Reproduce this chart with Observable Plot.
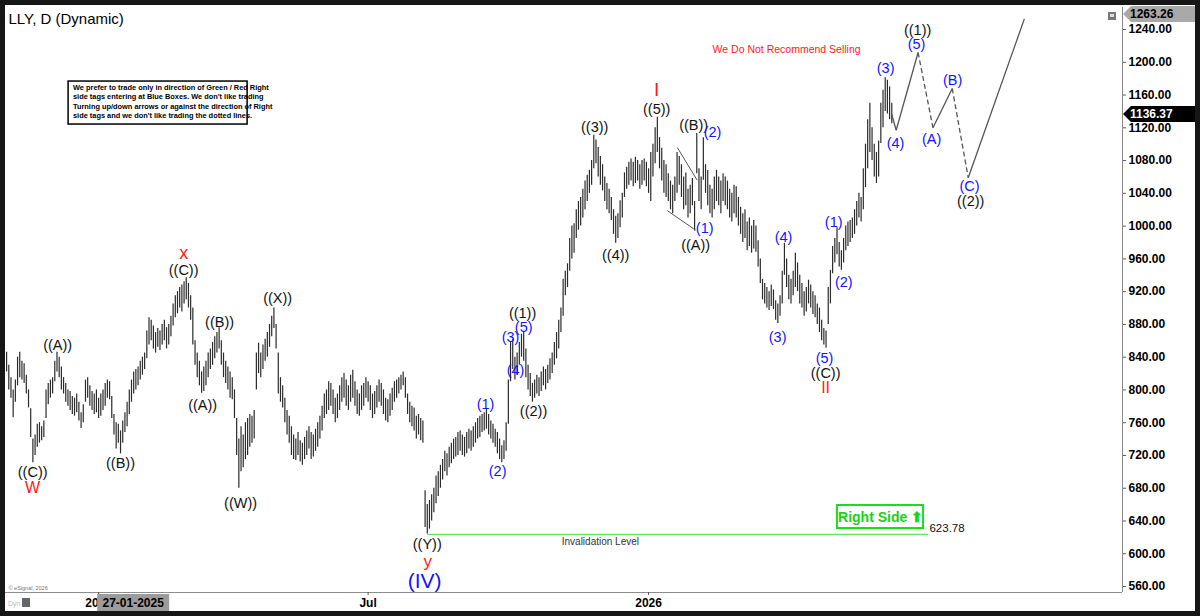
<!DOCTYPE html>
<html><head><meta charset="utf-8">
<script src="https://cdn.jsdelivr.net/npm/d3@7"></script>
<script src="https://cdn.jsdelivr.net/npm/@observablehq/plot@0.6"></script>
<style>
html,body{margin:0;padding:0;background:#fff;}
#wrap{position:relative;width:1200px;height:616px;overflow:hidden;background:#fff;}
#border{position:absolute;left:0;top:0;width:1200px;height:616px;box-sizing:border-box;border:5px solid #161616;pointer-events:none;}
svg text{font-family:"Liberation Sans",Arial,sans-serif;}
g[aria-label="y-axis tick label"] text, g[aria-label="x-axis tick label"] text{font-weight:bold;}
</style></head><body><div id="wrap"><div id="border"></div></div><script>
// ---- daily price ranges [low, high], one per trading day (index 0 = ~31 Oct 2024)
const barRanges = [
[822,846],[800,830],[790,815],[766,800],[785,812],[805,840],[815,846],[812,835],[808,832],[795,818],
[778,800],[742,777],[711,740],[720,745],[730,758],[735,760],[738,755],[742,762],[765,800],[782,808],
[790,812],[795,815],[810,835],[822,846],[815,840],[800,828],[795,815],[785,808],[780,800],[775,798],
[770,792],[768,790],[772,795],[762,785],[753,772],[760,782],[785,812],[790,815],[780,805],[775,798],
[770,795],[772,800],[765,790],[768,795],[775,800],[780,808],[790,812],[788,810],[765,792],[745,770],
[728,760],[735,758],[722,750],[735,762],[748,772],[755,785],[770,800],[785,812],[795,822],[800,825],
[805,828],[812,835],[818,840],[825,845],[838,872],[855,888],[860,885],[850,878],[845,870],[852,875],
[848,872],[855,880],[860,885],[850,876],[855,880],[865,890],[878,905],[888,915],[893,920],[900,925],
[895,928],[905,932],[910,937],[900,930],[885,915],[855,900],[830,860],[815,845],[805,835],[796,822],
[798,828],[805,835],[815,845],[825,850],[830,858],[838,865],[845,870],[850,876],[830,860],[815,845],
[808,835],[800,828],[790,822],[788,815],[765,800],[720,765],[680,740],[700,755],[705,745],[715,760],
[720,765],[730,770],[735,768],[740,775],[800,845],[820,857],[815,845],[825,855],[835,862],[840,870],
[852,880],[865,890],[875,900],[850,880],[795,845],[785,815],[778,805],[760,790],[745,775],[735,768],
[720,755],[715,745],[714,740],[720,748],[712,738],[708,735],[715,742],[720,750],[728,755],[715,748],
[718,745],[725,752],[730,760],[740,768],[750,780],[765,795],[770,800],[775,810],[780,808],[770,800],
[760,790],[765,795],[775,805],[785,815],[790,820],[780,812],[775,805],[785,818],[790,824],[780,810],
[770,800],[768,795],[775,805],[780,808],[790,815],[785,810],[775,805],[765,795],[770,798],[778,805],
[785,812],[780,808],[770,800],[762,790],[760,788],[768,795],[775,802],[785,810],[790,812],[795,815],
[800,818],[805,822],[790,815],[770,795],[760,785],[755,780],[750,778],[740,768],[745,770],[738,765],
[735,762],[632,677],[624,660],[630,665],[640,672],[650,680],[661,695],[670,700],[680,708],[690,715],
[700,725],[695,722],[705,730],[710,735],[715,740],[718,742],[720,748],[725,750],[720,745],[718,742],
[722,748],[728,752],[725,750],[730,755],[735,760],[740,765],[742,768],[748,770],[750,772],[752,776],
[745,770],[740,762],[735,758],[730,752],[722,748],[715,740],[711,732],[715,738],[725,760],[758,812],
[810,858],[825,862],[812,840],[818,845],[830,858],[840,868],[835,870],[815,850],[800,830],[792,820],
[785,808],[790,812],[795,818],[792,815],[798,822],[805,828],[800,825],[808,830],[812,838],[820,845],
[830,858],[838,870],[850,885],[870,900],[890,935],[915,945],[925,954],[945,985],[960,1000],[967,1003],
[985,1020],[995,1030],[1000,1035],[1010,1045],[1020,1055],[1030,1062],[1040,1068],[1050,1080],[1070,1111],[1076,1105],
[1060,1096],[1050,1085],[1043,1075],[1030,1060],[1020,1052],[1015,1045],[1007,1035],[990,1020],[979,1012],[985,1015],
[998,1031],[1010,1040],[1035,1065],[1045,1072],[1050,1078],[1055,1082],[1048,1078],[1052,1084],[1055,1080],[1045,1075],
[1050,1080],[1055,1082],[1048,1078],[1040,1070],[1030,1090],[1060,1100],[1076,1120],[1090,1133],[1070,1108],[1055,1095],
[1040,1080],[1035,1075],[1030,1064],[1020,1055],[1015,1050],[1030,1060],[1040,1090],[1050,1085],[1035,1075],[1020,1060],
[1025,1065],[1010,1045],[1015,1050],[1025,1058],[994,1030],[1064,1113],[1030,1070],[1020,1060],[1056,1108],[1040,1075],
[1025,1068],[1015,1050],[1010,1045],[1020,1060],[1030,1068],[1025,1060],[1015,1055],[1030,1064],[1025,1060],[1020,1055],
[1010,1045],[1005,1040],[1015,1050],[1010,1048],[1000,1035],[990,1023],[980,1015],[985,1020],[970,1005],[975,1010],
[967,1000],[972,1007],[968,1000],[950,982],[930,960],[910,935],[905,930],[900,925],[897,920],[902,928],
[898,922],[885,909],[881,905],[890,915],[905,945],[940,979],[925,960],[910,940],[905,935],[915,945],
[925,967],[920,955],[905,940],[900,930],[890,920],[895,925],[905,934],[900,928],[892,920],[888,915],
[880,905],[870,900],[860,885],[855,875],[851,872],[880,925],[905,946],[942,975],[955,985],[965,998],
[950,980],[946,970],[955,985],[970,1000],[975,1005],[980,1007],[985,1010],[990,1020],[1000,1030],[1010,1040],
[1005,1035],[1020,1070],[1047,1100],[1070,1130],[1090,1150],[1080,1120],[1060,1100],[1052,1090],[1060,1104],[1101,1150],
[1120,1166],[1140,1181],[1137,1178],[1130,1170],[1125,1150]
];
const lastClose = 1136.37;
const topTag = 1263.26;
const invalidation = 623.78;

// axis ticks
const yTicks = d3.range(560, 1241, 40);
const xTickIdx = [42, 165, 293];
const xTickText = ["2025", "Jul", "2026"];
const crossIdx = 58, crossText = "27-01-2025";

// wave labels: [text, bar index, price]
const waveBlack = [
["((C))",11.9,699],["((A))",23.3,854],["((B))",52,710],["((C))",80.8,946],["((B))",97.2,883],
["((A))",89.5,781],["((W))",106.8,661],["((X))",123.7,912],["((Y))",192,611],["((1))",235.5,893],
["((2))",240.5,774],["((3))",268.4,1120],["((4))",278,964],["((5))",296.7,1142],["((B))",313.6,1123],
["((A))",314.5,976],["((C))",373.8,820],["((1))",415.8,1239],["((2))",440,1030]
];
const waveBlue = [
["(1)",218.6,783],["(2)",224.1,700],["(3)",230,864],["(4)",232.3,824],["(5)",236,876],
["(1)",318.6,997],["(2)",322.2,1114],["(3)",351.9,864],["(4)",354.6,986],["(5)",373.3,839],
["(1)",377.5,1004],["(2)",382.1,931],["(3)",401.2,1192],["(4)",405.7,1101],["(5)",415.3,1222],
["(A)",422.2,1106],["(B)",431.8,1178],["(C)",439.5,1048]
];
const waveRed = [["W",11.9,681,16],["x",80.8,967,18],["y",192.2,591,17],["I",296.7,1166,19],["II",373.8,802,16]];
const waveBig = [["(IV)",190.8,567]];

// projected path [bar index, price], dashed flags per segment
const projIdx = [404, 406, 416, 422.8, 431.6, 438.9, 464.5];
const projPrice = [lastClose, 1117, 1212, 1120, 1168, 1059, 1253];
const projDashed = [false, false, true, false, true, false];
// channel lines inside the ((A))-((B)) zone
const channelLines = [[306.1,1096,315.2,1056],[301.5,1019,314.5,995]];

const disclaimer = [
"We prefer to trade only in direction of Green / Red Right",
"side tags entering at Blue Boxes. We don't like trading",
"Turning up/down arrows or against the direction of Right",
"side tags and we don't like trading the dotted lines."
];
const disclaimerPrice = [1169, 1157.5, 1146, 1135];
const disclaimerWidth = [173, 170, 173, 156];

const bars = barRanges.map(([lo, hi], i) => ({i, lo, hi}));
const segs = projDashed.map((d, k) => ({x1: projIdx[k], y1: projPrice[k], x2: projIdx[k+1], y2: projPrice[k+1], dashed: d}));
const xDomain = [-0.5, 509.3];
const yDomain = [552.7, 1266.9];
const FONT = "Liberation Sans, Arial, sans-serif";

const plot = Plot.plot({
  width: 1200, height: 616,
  marginLeft: 5, marginRight: 78, marginTop: 7, marginBottom: 24,
  x: {domain: xDomain},
  y: {domain: yDomain},
  style: {fontFamily: FONT, background: "#fff", overflow: "visible", color: "#000"},
  marks: [
    Plot.ruleY([yDomain[0]], {stroke: "#8c8c8c"}),
    Plot.ruleX([xDomain[1]], {stroke: "#8c8c8c"}),
    Plot.axisY({anchor: "right", ticks: yTicks, tickFormat: d => d.toFixed(2), tickSize: 3, tickPadding: 3, fontSize: 12, label: null, stroke: "#555"}),
    Plot.axisX({anchor: "bottom", ticks: xTickIdx, tickFormat: d => xTickText[xTickIdx.indexOf(d)], tickSize: 3, tickPadding: 3, fontSize: 12, label: null, stroke: "#555"}),
    // invalidation level
    Plot.ruleY([invalidation], {x1: 192.2, x2: 420.8, stroke: "#5ee85e", strokeWidth: 1.3}),
    Plot.text(["Invalidation Level"], {x: 271, y: 615, fontSize: 10, fill: "#333"}),
    Plot.text([invalidation.toFixed(2)], {x: 421.2, y: 631, textAnchor: "start", fontSize: 11.5, fill: "#111"}),
    // price bars
    Plot.ruleX(bars, {x: "i", y1: "lo", y2: "hi", stroke: "#2b2b2b", strokeWidth: 1.2}),
    // channel lines
    Plot.link(channelLines, {x1: d => d[0], y1: d => d[1], x2: d => d[2], y2: d => d[3], stroke: "#555", strokeWidth: 1}),
    // projection
    Plot.link(segs.filter(d => !d.dashed), {x1: "x1", y1: "y1", x2: "x2", y2: "y2", stroke: "#555", strokeWidth: 1.3}),
    Plot.link(segs.filter(d => d.dashed), {x1: "x1", y1: "y1", x2: "x2", y2: "y2", stroke: "#555", strokeWidth: 1.3, strokeDasharray: "5,3"}),
    // wave labels
    Plot.text(waveBlack, {x: d => d[1], y: d => d[2], text: d => d[0], fontSize: 14.5, fill: "#111"}),
    Plot.text(waveBlue, {x: d => d[1], y: d => d[2], text: d => d[0], fontSize: 14.5, fill: "#1414ff"}),
    Plot.text(waveRed, {x: d => d[1], y: d => d[2], text: d => d[0], fontSize: d => d[3], fill: "#ff1a1a"}),
    Plot.text(waveBig, {x: d => d[1], y: d => d[2], text: d => d[0], fontSize: 21, fill: "#1414ff"}),
    // notes
    Plot.text(["We Do Not Recommend Selling"], {x: 356, y: 1216, fontSize: 10.5, fill: "#ff1a1a"}),
    Plot.rect([0], {x1: 28.3, x2: 110, y1: 1124, y2: 1176.5, fill: "#fff", stroke: "#000", strokeWidth: 1.5}),
    Plot.text(disclaimer, {x: 30.3, y: (d, k) => disclaimerPrice[k], text: d => d, textAnchor: "start", fontSize: 7.4, fontWeight: "bold", fill: "#000", ariaLabel: "disclaimer"}),
    Plot.rect([0], {x1: 379.2, x2: 418.5, y1: 630.8, y2: 658.9, fill: "none", stroke: "#17e017", strokeWidth: 2}),
    Plot.text(["Right Side \u2B06"], {x: 398.9, y: 644.5, fontSize: 14, fontWeight: "bold", fill: "#17d417"}),
    Plot.text(["LLY, D (Dynamic)"], {frameAnchor: "top-left", dx: 3, dy: 6, lineAnchor: "top", textAnchor: "start", fontSize: 15, fill: "#000"}),
    Plot.text(["\u00A9 eSignal, 2026"], {frameAnchor: "bottom-left", dx: 3, dy: -3, lineAnchor: "bottom", textAnchor: "start", fontSize: 5.5, fill: "#777"})
  ]
});

const svg = d3.select(plot);
const xs = plot.scale("x"), ys = plot.scale("y");
// condensed disclaimer text
svg.selectAll('g[aria-label="disclaimer"] text').each(function(d, k) {
  d3.select(this).attr("textLength", disclaimerWidth[k]).attr("lengthAdjust", "spacingAndGlyphs");
});
// price tags on the right axis
function priceTag(value, y, fill, color) {
  const g = svg.append("g");
  g.append("path").attr("d", `M1123,${y} L1131,${y-8} L1196,${y-8} L1196,${y+8} L1131,${y+8} Z`).attr("fill", fill);
  g.append("text").attr("x", 1130).attr("y", y).attr("dy", "0.36em").attr("text-anchor", "start")
    .attr("font-size", 12).attr("font-weight", "bold").attr("fill", color).attr("font-family", FONT).text(value.toFixed(2));
}
priceTag(topTag, Math.max(ys.apply(topTag), 14), "#a9a9a9", "#000");
priceTag(lastClose, ys.apply(lastClose), "#000", "#fff");
// crosshair date box on the time axis
const cx = xs.apply(crossIdx);
svg.append("rect").attr("x", cx - 36).attr("y", 594).attr("width", 72).attr("height", 17).attr("fill", "#9c9c9c");
svg.append("text").attr("x", cx).attr("y", 603).attr("dy", "0.36em").attr("text-anchor", "middle").attr("font-size", 12).attr("font-weight", "bold").attr("font-family", FONT).text(crossText);
// bottom-left "Dyn" marker and top-right icon
svg.append("text").attr("x", 8).attr("y", 606).attr("text-anchor", "start").attr("font-size", 7).attr("fill", "#bbb").attr("font-family", FONT).text("Dyn");
svg.append("rect").attr("x", 22).attr("y", 598).attr("width", 8).attr("height", 9).attr("fill", "#666");
svg.append("rect").attr("x", 1108).attr("y", 12).attr("width", 8).attr("height", 8).attr("fill", "#777");
svg.append("rect").attr("x", 1110).attr("y", 14).attr("width", 4).attr("height", 3).attr("fill", "#ddd");

document.getElementById("wrap").insertBefore(plot, document.getElementById("border"));
</script></body></html>
